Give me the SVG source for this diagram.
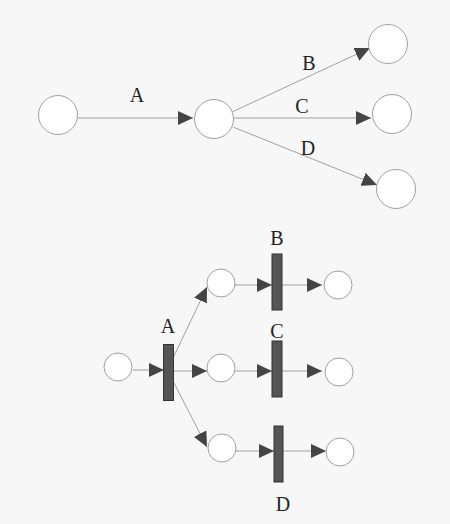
<svg xmlns="http://www.w3.org/2000/svg" width="450" height="524" viewBox="0 0 450 524">
<style>
.place{fill:#ffffff;stroke:#a0a0a0;stroke-width:1}
.bar{fill:#555555;stroke:#333333;stroke-width:1}
.edge{stroke:#a0a0a0;stroke-width:1;fill:none;marker-end:url(#ah)}
.lbl{font-family:"Liberation Serif",serif;font-size:20px;fill:#222222;text-anchor:middle}
</style>
<defs>
<marker id="ah" markerUnits="userSpaceOnUse" markerWidth="15" markerHeight="14" refX="15" refY="7" orient="auto">
<path d="M0,0 L15,7 L0,14 z" fill="#444444"/>
</marker>
</defs>
<rect width="450" height="524" fill="#f7f7f7"/>
<g id="connectors">
<line class="edge" x1="78" y1="118" x2="193" y2="118"/>
<line class="edge" x1="232" y1="112" x2="370" y2="48"/>
<line class="edge" x1="234" y1="118" x2="371" y2="118"/>
<line class="edge" x1="233" y1="127" x2="377" y2="185"/>
<line class="edge" x1="133" y1="370" x2="164" y2="370"/>
<line class="edge" x1="173" y1="358" x2="207" y2="287"/>
<line class="edge" x1="173" y1="371" x2="207" y2="371"/>
<line class="edge" x1="173" y1="381" x2="207" y2="447"/>
<line class="edge" x1="235" y1="285" x2="272" y2="285"/>
<line class="edge" x1="282" y1="285" x2="322" y2="285"/>
<line class="edge" x1="235" y1="371" x2="272" y2="371"/>
<line class="edge" x1="282" y1="371" x2="322" y2="371"/>
<line class="edge" x1="236" y1="451" x2="274" y2="451"/>
<line class="edge" x1="283" y1="451" x2="326" y2="451"/>
</g>
<g id="p1"><circle class="place" cx="58" cy="115" r="19.5"/></g>
<g id="p2"><circle class="place" cx="214" cy="119" r="19.5"/></g>
<g id="pB"><circle class="place" cx="388" cy="44" r="19.5"/></g>
<g id="pC"><circle class="place" cx="392" cy="114" r="19.5"/></g>
<g id="pD"><circle class="place" cx="396" cy="189" r="19.5"/></g>
<g id="lblTop">
<text class="lbl" x="137" y="102">A</text>
<text class="lbl" x="309" y="70">B</text>
<text class="lbl" x="302" y="113">C</text>
<text class="lbl" x="308" y="155">D</text>
</g>
<g id="q0"><circle class="place" cx="118" cy="367" r="14"/></g>
<g id="tA"><rect class="bar" x="163.5" y="344.5" width="10" height="56"/><text class="lbl" x="168" y="333">A</text></g>
<g id="q1"><circle class="place" cx="221" cy="283" r="14"/></g>
<g id="q2"><circle class="place" cx="221" cy="368" r="14"/></g>
<g id="q3"><circle class="place" cx="222" cy="448" r="14"/></g>
<g id="tB"><rect class="bar" x="272" y="254" width="10" height="56"/><text class="lbl" x="277" y="245">B</text></g>
<g id="tC"><rect class="bar" x="272" y="341" width="10" height="56"/><text class="lbl" x="277" y="338">C</text></g>
<g id="tD"><rect class="bar" x="274" y="426" width="9" height="56"/><text class="lbl" x="283" y="511">D</text></g>
<g id="r1"><circle class="place" cx="338" cy="285" r="14"/></g>
<g id="r2"><circle class="place" cx="339" cy="372" r="14"/></g>
<g id="r3"><circle class="place" cx="340" cy="452" r="14"/></g>
</svg>
